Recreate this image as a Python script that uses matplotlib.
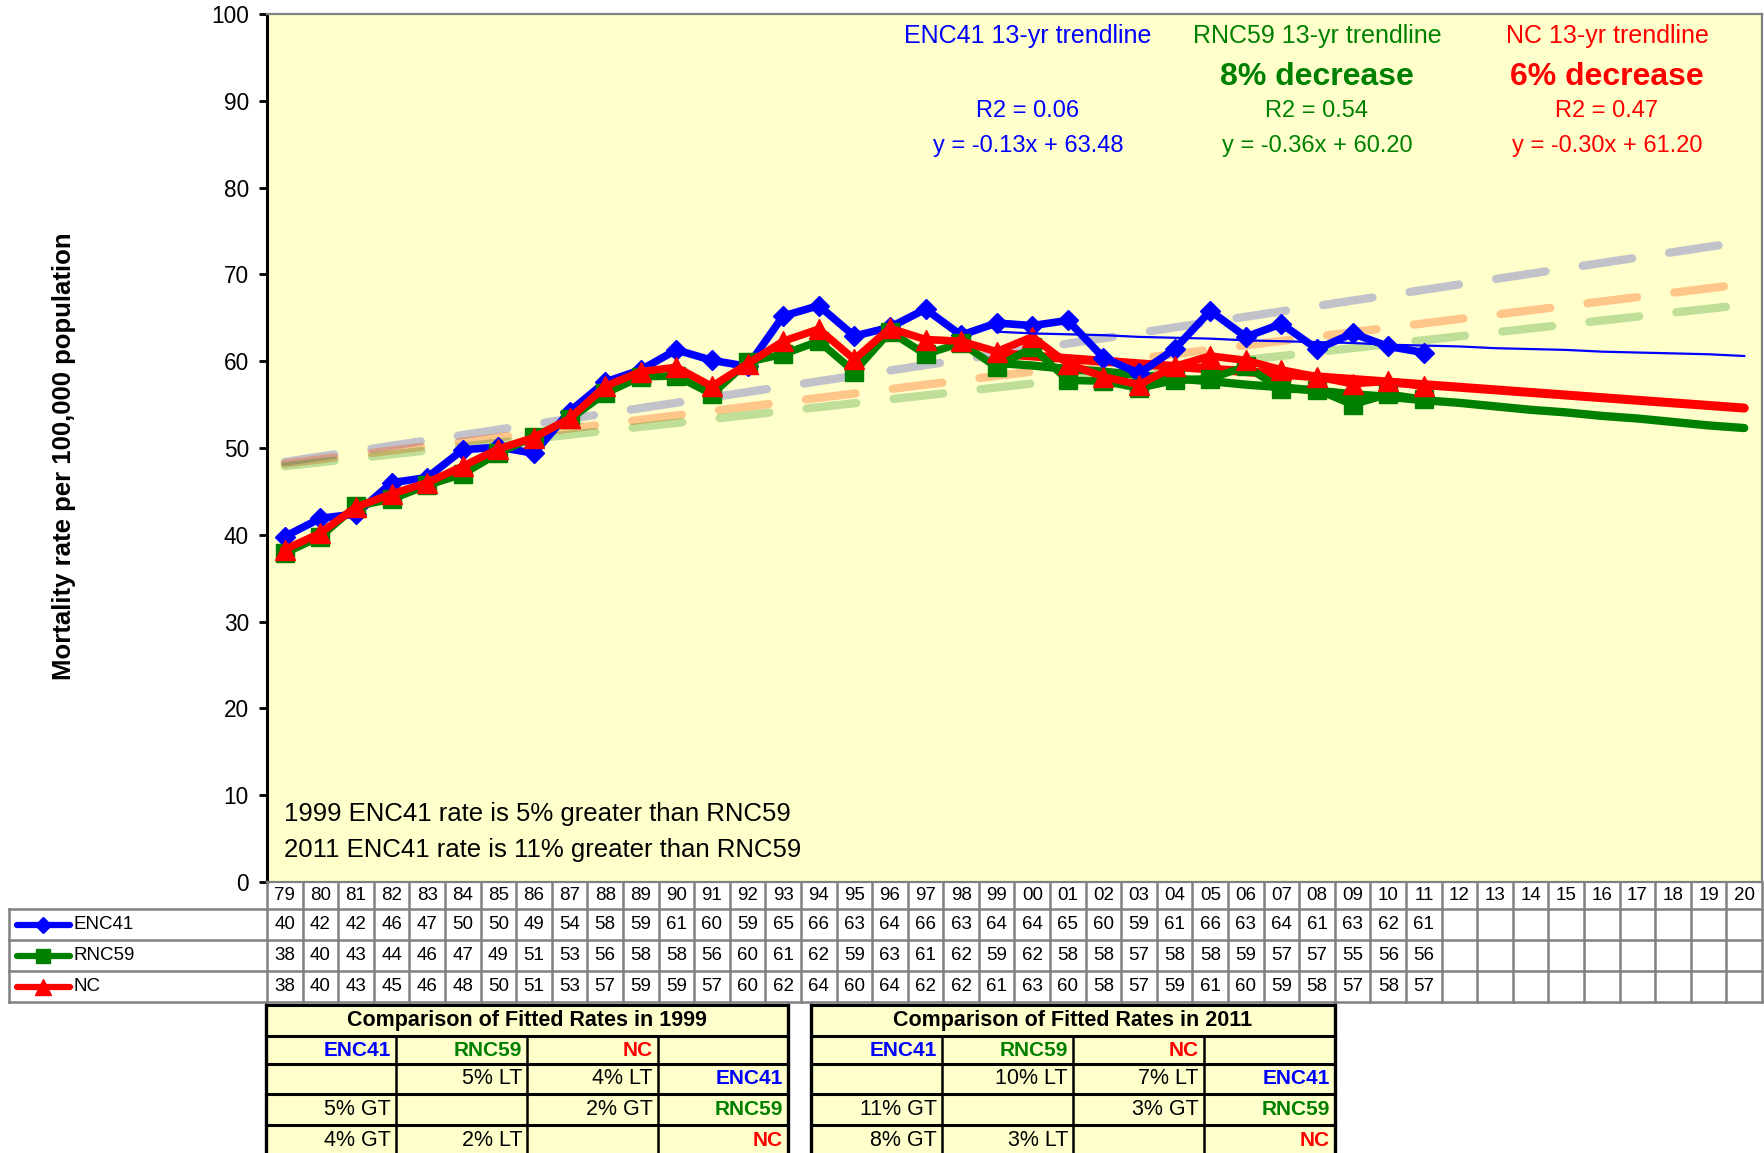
import numpy as np
import matplotlib
matplotlib.use('Agg')
from matplotlib import pyplot as plt
from matplotlib import font_manager
from matplotlib.lines import Line2D
from matplotlib.patches import Rectangle
import matplotlib.transforms as mtransforms

W, H = 1765, 1153

years = ['79', '80', '81', '82', '83', '84', '85', '86', '87', '88', '89',
         '90', '91', '92', '93', '94', '95', '96', '97', '98', '99', '00',
         '01', '02', '03', '04', '05', '06', '07', '08', '09', '10', '11',
         '12', '13', '14', '15', '16', '17', '18', '19', '20']

# observed rates 1979-2011
enc41 = [39.8, 41.9, 42.4, 46.0, 46.6, 49.8, 50.1, 49.4, 54.2, 57.6, 59.0,
         61.3, 60.1, 59.4, 65.2, 66.4, 62.9, 63.9, 66.0, 63.0, 64.4, 64.1,
         64.7, 60.4, 58.6, 61.4, 65.8, 62.8, 64.3, 61.4, 63.2, 61.7, 61.0]
rnc59 = [37.9, 39.8, 43.3, 44.1, 45.7, 47.0, 49.4, 51.3, 53.3, 56.3, 58.2,
         58.3, 56.2, 59.9, 60.8, 62.3, 58.8, 63.4, 60.8, 62.1, 59.3, 61.6,
         57.8, 57.7, 56.9, 57.8, 58.0, 59.4, 56.8, 56.7, 55.0, 56.2, 55.6]
nc = [38.3, 40.2, 43.2, 44.7, 46.0, 47.9, 49.9, 51.2, 53.4, 57.1, 58.8,
      59.3, 57.1, 59.7, 62.3, 63.7, 60.2, 63.8, 62.5, 62.3, 61.1, 62.8,
      59.7, 58.2, 57.3, 59.4, 60.6, 60.1, 59.0, 58.2, 57.4, 57.7, 57.1]

# 13-yr trendlines, 1999-2020
trend_start = 20
enc41_trend = [63.4, 63.2, 63.1, 63.0, 62.8, 62.7, 62.6, 62.4, 62.3, 62.2, 62.1,
               61.9, 61.8, 61.7, 61.5, 61.4, 61.3, 61.1, 61.0, 60.9, 60.8, 60.6]
rnc59_trend = [59.8, 59.5, 59.1, 58.8, 58.4, 58.0, 57.7, 57.3, 57.0, 56.6, 56.2,
               55.9, 55.5, 55.2, 54.8, 54.4, 54.1, 53.7, 53.4, 53.0, 52.6, 52.3]
nc_trend = [60.9, 60.6, 60.3, 60.0, 59.7, 59.4, 59.1, 58.8, 58.5, 58.2, 57.9,
            57.6, 57.3, 57.0, 56.7, 56.4, 56.1, 55.8, 55.5, 55.2, 54.9, 54.6]

# long-term trendlines, values at 1979 and 2020
enc41_long = [48.4, 73.8]
rnc59_long = [47.9, 66.5]
nc_long = [48.2, 68.9]

trend_titles = ['ENC41 13-yr trendline', 'RNC59 13-yr trendline', 'NC 13-yr trendline']
trend_change = ['', '8% decrease', '6% decrease']
trend_r2 = ['R2 = 0.06', 'R2 = 0.54', 'R2 = 0.47']
trend_eq = ['y = -0.13x + 63.48', 'y = -0.36x + 60.20', 'y = -0.30x + 61.20']

notes = ['1999 ENC41 rate is 5% greater than RNC59',
         '2011 ENC41 rate is 11% greater than RNC59']

comp_labels = ['ENC41', 'RNC59', 'NC']
comp_1999 = [['', '5% LT', '4% LT'],
             ['5% GT', '', '2% GT'],
             ['4% GT', '2% LT', '']]
comp_2011 = [['', '10% LT', '7% LT'],
             ['11% GT', '', '3% GT'],
             ['8% GT', '3% LT', '']]

BLUE, GREEN, RED = '#0000FF', '#008000', '#FF0000'
YELLOW = '#FFFFCC'
GRID = '#808080'

plt.rcParams['font.family'] = ['Liberation Sans', 'DejaVu Sans']
names = {f.name for f in font_manager.fontManager.ttflist}
narrow = 'Liberation Sans Narrow' if 'Liberation Sans Narrow' in names else 'Liberation Sans'
lab_size = 17 if narrow == 'Liberation Sans Narrow' else 15


def fx(px):
    return px / W


def fy(py):
    return 1 - py / H


fig = plt.figure(figsize=(W / 100, H / 100), dpi=100)
fig.patch.set_facecolor('white')

ax = fig.add_axes([fx(267), fy(882), (1762 - 267) / W, (882 - 14) / H])
ax.set_facecolor(YELLOW)
ax.set_xlim(-0.5, len(years) - 0.5)
ax.set_ylim(0, 100)
ax.set_xticks([])
ax.set_yticks(range(0, 101, 10))
ax.tick_params(axis='y', length=6, width=2, labelsize=16.3, pad=7)
ax.spines['left'].set_color('black')
ax.spines['left'].set_linewidth(2.2)
for s in ['top', 'right', 'bottom']:
    ax.spines[s].set_color(GRID)
    ax.spines[s].set_linewidth(1.6)

x = np.arange(len(years))
xl = [0, len(years) - 1]

# long dashed trendlines
for vals, col, a in [(enc41_long, '#3838C8', 0.3), (nc_long, '#FF5000', 0.32), (rnc59_long, GREEN, 0.25)]:
    ax.plot(xl, vals, color=col, alpha=a, lw=6, dashes=(6, 4.5),
            dash_capstyle='round', zorder=2)

xt = np.arange(trend_start, trend_start + len(enc41_trend))
ax.plot(xt, rnc59_trend, color=GREEN, lw=6, zorder=3, solid_capstyle='round')
ax.plot(xt, nc_trend, color=RED, lw=6.5, zorder=3, solid_capstyle='round')

xd = x[:len(enc41)]
ax.plot(xd, enc41, color=BLUE, lw=5.5, marker='D', ms=10, zorder=4)
ax.plot(xd, rnc59, color=GREEN, lw=5.5, marker='s', ms=12.5, zorder=5)
ax.plot(xd, nc, color=RED, lw=5.5, marker='^', ms=14, zorder=6)
ax.plot(xt, enc41_trend, color=BLUE, lw=1.6, zorder=7)

fig.text(fx(64), fy(456), 'Mortality rate per 100,000 population', rotation=90,
         ha='center', va='center', fontsize=18.5, fontweight='bold')

# trendline annotations
cols = [BLUE, GREEN, RED]
cx = [1028, 1317, 1607]
for i in range(3):
    fig.text(fx(cx[i]), fy(36), trend_titles[i], color=cols[i], ha='center', va='center', fontsize=18)
    if trend_change[i]:
        fig.text(fx(cx[i]), fy(77), trend_change[i], color=cols[i], ha='center', va='center',
                 fontsize=23, fontweight='bold')
    fig.text(fx(cx[i]), fy(111), trend_r2[i], color=cols[i], ha='center', va='center', fontsize=17)
    fig.text(fx(cx[i]), fy(146), trend_eq[i], color=cols[i], ha='center', va='center', fontsize=17)

for i, t in enumerate(notes):
    fig.text(fx(284), fy(814 + 36 * i), t, ha='left', va='center', fontsize=18.5)

# data table under the chart
bt = mtransforms.blended_transform_factory(ax.transData, fig.transFigure)
row_lines = [909, 939.5, 970.5, 1001.5]
for k in range(len(years) + 1):
    fig.add_artist(Line2D([k - 0.5, k - 0.5], [fy(882), fy(1001.5)], transform=bt,
                          color=GRID, lw=1.8))
for ry in row_lines:
    fig.add_artist(Line2D([fx(9), fx(1762)], [fy(ry), fy(ry)], transform=fig.transFigure,
                          color=GRID, lw=1.8))
fig.add_artist(Line2D([fx(9), fx(9)], [fy(909), fy(1001.5)], transform=fig.transFigure,
                      color=GRID, lw=1.8))

for k, yr in enumerate(years):
    fig.text(k, fy(896), yr, transform=bt, ha='center', va='center', fontsize=13.5)

series = [('ENC41', enc41, BLUE, 'D', 8), ('RNC59', rnc59, GREEN, 's', 10), ('NC', nc, RED, '^', 11)]
row_cy = [924.5, 955.5, 986.5]
for (name, vals, col, mk, ms), ry in zip(series, row_cy):
    for k, v in enumerate(vals):
        fig.text(k, fy(ry), f'{v:.0f}', transform=bt, ha='center', va='center', fontsize=13.5)
    fig.add_artist(Line2D([fx(17), fx(43.5), fx(70)], [fy(ry)] * 3, transform=fig.transFigure,
                          color=col, lw=4.5, marker=mk, ms=ms, markevery=[1],
                          solid_capstyle='round'))
    fig.text(fx(74), fy(ry), name, ha='left', va='center', fontsize=13.5)


# comparison tables (spreadsheet cells below the chart)
def comp_table(colx, title, cells):
    rows = [1005, 1036, 1064, 1094, 1125, 1156]
    fig.add_artist(Rectangle((fx(colx[0]), fy(rows[-1])), fx(colx[-1] - colx[0]),
                             (rows[-1] - rows[0]) / H, transform=fig.transFigure,
                             facecolor=YELLOW, edgecolor='none'))
    for ry in rows:
        fig.add_artist(Line2D([fx(colx[0]), fx(colx[-1])], [fy(ry), fy(ry)],
                              transform=fig.transFigure, color='black', lw=2.2))
    for j, cxp in enumerate(colx):
        top = rows[0] if j in (0, len(colx) - 1) else rows[1]
        fig.add_artist(Line2D([fx(cxp), fx(cxp)], [fy(top), fy(rows[-1])],
                              transform=fig.transFigure, color='black',
                              lw=2.4 if top == rows[0] else 1.8))
    fig.text(fx((colx[0] + colx[-1]) / 2), fy((rows[0] + rows[1]) / 2), title,
             ha='center', va='center', fontsize=15.5, fontweight='bold')
    cy = [(rows[i] + rows[i + 1]) / 2 for i in range(1, 5)]
    for j, lab in enumerate(comp_labels):
        fig.text(fx(colx[j + 1] - 5), fy(cy[0]), lab, color=cols[j], ha='right', va='center',
                 fontsize=lab_size, fontweight='bold', family=[narrow, 'DejaVu Sans'])
        fig.text(fx(colx[4] - 5), fy(cy[j + 1]), lab, color=cols[j], ha='right', va='center',
                 fontsize=lab_size, fontweight='bold', family=[narrow, 'DejaVu Sans'])
        for i in range(3):
            if cells[j][i]:
                fig.text(fx(colx[i + 1] - 5), fy(cy[j + 1]), cells[j][i], ha='right',
                         va='center', fontsize=15.5)


comp_table([266, 396, 527, 658, 788], 'Comparison of Fitted Rates in 1999', comp_1999)
comp_table([811, 942, 1073, 1204, 1335], 'Comparison of Fitted Rates in 2011', comp_2011)

fig.savefig('out.png', dpi=100)
